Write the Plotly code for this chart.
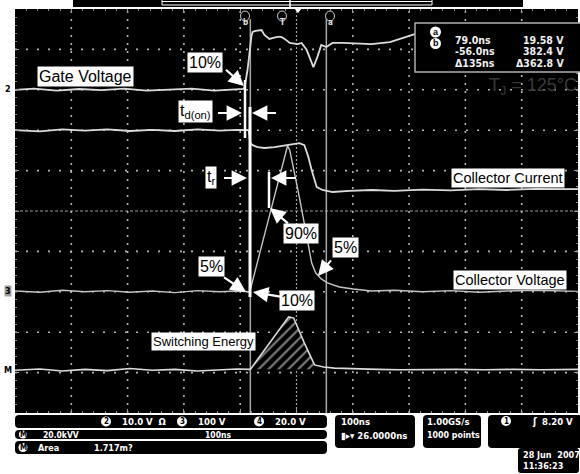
import plotly.graph_objects as go

# ---------------- data (time in ns, amplitude in screen divisions) ----------------
gate_t = [-474, -440, -400, -360, -320, -280, -240, -200, -160, -120, -90, -68, -66, -61, -54, -52, -47,
          -36, -31, -22, -17, -8, -1, 5, 14, 28, 35, 44, 51, 56, 63, 70, 79, 90, 108, 159, 192, 236, 298, 526]
gate_v = [3.0, 3.03, 2.98, 3.02, 2.99, 3.03, 2.98, 3.01, 3.03, 2.98, 3.01, 3.02, 3.07, 3.49, 4.33, 4.43, 4.46,
          4.48, 4.36, 4.26, 4.28, 4.31, 4.31, 4.26, 4.16, 4.13, 4.16, 3.99, 3.74, 3.56, 3.81, 4.11, 4.06, 4.16,
          4.16, 4.13, 4.18, 4.38, 4.48, 4.53]

current_t = [-474, -430, -390, -350, -310, -270, -230, -190, -150, -110, -80, -59, -56, -52, -43, -31, -13, 8,
             19, 31, 40, 47, 53, 62, 72, 90, 120, 160, 200, 250, 300, 350, 400, 450, 526]
current_v = [2.0, 1.97, 2.02, 1.99, 2.02, 1.98, 2.01, 1.98, 2.02, 1.99, 2.01, 2.0, 1.68, 1.63, 1.58, 1.56, 1.58,
             1.63, 1.66, 1.68, 1.63, 1.34, 1.01, 0.59, 0.52, 0.47, 0.50, 0.52, 0.50, 0.53, 0.51, 0.54, 0.52,
             0.55, 0.54]

voltage_t = [-474, -430, -390, -350, -310, -270, -230, -190, -150, -110, -80, -57, -24, 6, 10, 14, 19, 31, 42,
             53, 60, 70, 81, 102, 127, 159, 200, 250, 300, 350, 400, 450, 526]
voltage_v = [-1.98, -2.01, -1.96, -2.0, -1.97, -2.01, -1.98, -2.02, -1.97, -2.0, -1.98, -2.0, -0.22, 1.45, 1.61,
             1.51, 1.19, 0.35, -0.47, -1.29, -1.53, -1.68, -1.78, -1.88, -1.93, -1.98, -1.96, -2.0, -1.97, -2.01,
             -1.98, -1.96, -1.99]

math_t = [-474, -430, -390, -350, -310, -270, -230, -190, -150, -110, -80, -56, 12, 21, 40, 58, 74, 94, 130,
          170, 210, 260, 310, 360, 410, 460, 526]
math_v = [-3.94, -3.91, -3.96, -3.92, -3.95, -3.90, -3.94, -3.92, -3.96, -3.93, -3.91, -3.92, -2.62, -2.65,
          -3.27, -3.81, -3.86, -3.89, -3.91, -3.92, -3.93, -3.92, -3.92, -3.93, -3.92, -3.93, -3.92]

cursor_a = 79.0     # ns
cursor_b = -56.0    # ns
x_range = [-474, 526]   # 100 ns/div, centre 26 ns
y_range = [-5, 5]
x_divs = [-374, -274, -174, -74, 126, 226, 326, 426]   # graticule verticals (ns)
y_divs = [-4, -3, -2, -1, 1, 2, 3, 4]                  # graticule horizontals (div)

readout = [("a", "79.0ns", "19.58 V"), ("b", "-56.0ns", "382.4 V"), ("", "\u0394135ns", "\u0394362.8 V")]

# ---------------- helpers: pixel -> paper for decorations ----------------
L, R, TOP, BOT = 15, 578, 9, 413
W, H = R - L, BOT - TOP


def X(px):
    return (px - L) / W


def Y(py):
    return (BOT - py) / H


TRACE = "#dcdcdc"
fig = go.Figure()

# hatched switching-energy area (from math trace)
h_t = [t for t in math_t if cursor_b <= t <= 58]
h_v = [v for t, v in zip(math_t, math_v) if cursor_b <= t <= 58]
base = math_v[-1]
fig.add_trace(go.Scatter(x=h_t + [h_t[-1], h_t[0]], y=h_v + [base, base], mode="lines",
                         line=dict(width=0), fill="toself",
                         fillpattern=dict(shape="/", fgcolor="white", bgcolor="black", size=7, solidity=0.3),
                         hoverinfo="skip"))

for tx, ty, col, w in [(gate_t, gate_v, TRACE, 1.8), (current_t, current_v, TRACE, 1.8),
                       (voltage_t, voltage_v, "#c4c4c4", 1.4), (math_t, math_v, TRACE, 1.6)]:
    fig.add_trace(go.Scatter(x=tx, y=ty, mode="lines", line=dict(color=col, width=w), hoverinfo="skip"))

shapes = []
annos = []

# graticule (dotted)
for gx in x_divs:
    shapes.append(dict(type="line", xref="x", yref="paper", x0=gx, x1=gx, y0=0, y1=1,
                       line=dict(color="#b4b4b4", width=1.6, dash="2px,6px"), layer="below"))
for gy in y_divs:
    shapes.append(dict(type="line", xref="paper", yref="y", x0=0, x1=1, y0=gy, y1=gy,
                       line=dict(color="#b4b4b4", width=1.6, dash="2px,9px"), layer="below"))
# centre lines a bit denser
shapes.append(dict(type="line", xref="x", yref="paper", x0=26, x1=26, y0=0, y1=1,
                   line=dict(color="#a0a0a0", width=1.2, dash="2px,2px"), layer="below"))
shapes.append(dict(type="line", xref="paper", yref="y", x0=0, x1=1, y0=0, y1=0,
                   line=dict(color="#a0a0a0", width=1.2, dash="3px,2px"), layer="below"))
# cursors
for c in (cursor_a, cursor_b):
    shapes.append(dict(type="line", xref="x", yref="paper", x0=c, x1=c, y0=0, y1=0.975,
                       line=dict(color="#a8a8a8", width=1.5), layer="below"))


def wline(x0, y0, x1, y1, w=2.5):
    shapes.append(dict(type="line", xref="paper", yref="paper", x0=X(x0), y0=Y(y0), x1=X(x1), y1=Y(y1),
                       line=dict(color="white", width=w), layer="above"))


wline(245, 80, 245, 138)
wline(250, 107, 250, 297, 3)
wline(269, 172, 269, 208)


def arrow(hx, hy, tx, ty):
    annos.append(dict(xref="paper", yref="paper", x=X(hx), y=Y(hy), ax=tx - hx, ay=ty - hy, text=" ",
                      showarrow=True, arrowhead=2, arrowsize=1.4, arrowwidth=2.2, arrowcolor="white",
                      standoff=0, font=dict(size=2)))


arrow(244, 86, 224, 68)
arrow(242, 113, 216, 113)
arrow(252, 113, 278, 113)
arrow(247, 178, 222, 178)
arrow(271, 178, 298, 178)
arrow(270, 208, 290, 225)
arrow(318, 276, 333, 258)
arrow(246, 292, 222, 276)
arrow(253, 292, 282, 297)

SANS = "Liberation Sans, Arial, sans-serif"


def label(cx, cy, txt, size=16):
    annos.append(dict(xref="paper", yref="paper", x=X(cx), y=Y(cy), text=txt, showarrow=False,
                      bgcolor="white", borderpad=1, xanchor="center", yanchor="middle",
                      font=dict(family=SANS, size=size, color="black")))


label(85, 76, "Gate Voltage", 16)
label(205, 62, "10%", 16)
label(195, 111, "t<sub>d(on)</sub>", 16)
label(211, 177, "t<sub>r</sub>", 16)
label(301, 233, "90%", 16)
label(345, 247, "5%", 16)
label(211, 266, "5%", 16)
label(297, 300, "10%", 16)
label(508, 178, "Collector Current", 14.5)
label(510, 280, "Collector Voltage", 14.5)
label(203, 341, "Switching Energy", 13)

annos.append(dict(xref="paper", yref="paper", x=X(533), y=Y(87), text="T<sub>J</sub> = 125\u00b0C",
                  showarrow=False, xanchor="center", yanchor="middle",
                  font=dict(family=SANS, size=18, color="#3a3a3a")))

# readout box
shapes.append(dict(type="rect", xref="paper", yref="paper", x0=X(415), x1=X(584), y0=Y(72), y1=Y(23),
                   fillcolor="black", line=dict(color="#b0b0b0", width=1.5), layer="above"))
NARROW = "Liberation Sans Narrow, DejaVu Sans Condensed, Liberation Sans"
for i, (tag, tv, vv) in enumerate(readout):
    yy = 32 + i * 11.5
    if tag:
        shapes.append(dict(type="circle", xref="paper", yref="paper", x0=X(430), x1=X(441),
                           y0=Y(yy + 5.5), y1=Y(yy - 5.5), fillcolor="white", line=dict(width=0),
                           layer="above"))
        annos.append(dict(xref="paper", yref="paper", x=X(435.5), y=Y(yy), text="<b>%s</b>" % tag,
                          showarrow=False, xanchor="center", yanchor="middle",
                          font=dict(family=SANS, size=9, color="black")))
    annos.append(dict(xref="paper", yref="paper", x=X(453), y=Y(yy), text="<b>%s</b>" % tv, showarrow=False,
                      xanchor="left", font=dict(family=NARROW, size=10.5, color="#f0f0f0")))
    annos.append(dict(xref="paper", yref="paper", x=X(566), y=Y(yy), text="<b>%s</b>" % vv, showarrow=False,
                      xanchor="right", font=dict(family=NARROW, size=10.5, color="#f0f0f0")))

# cursor / trigger markers at top
for px, t in [(245, "b"), (282, "T"), (330, "a")]:
    shapes.append(dict(type="circle", xref="paper", yref="paper", x0=X(px - 4.5), x1=X(px + 4.5),
                       y0=Y(21), y1=Y(11), fillcolor="black", line=dict(color="#d0d0d0", width=1),
                       layer="above"))
    annos.append(dict(xref="paper", yref="paper", x=X(px), y=Y(16), text="<b>%s</b>" % t, showarrow=False,
                      font=dict(family=NARROW, size=8, color="#e0e0e0")))
shapes.append(dict(type="path", xref="paper", yref="paper",
                   path="M %f %f L %f %f L %f %f Z" % (X(294), Y(8), X(302), Y(8), X(298), Y(13)),
                   fillcolor="white", line=dict(width=0), layer="above"))

# top record bar
shapes.append(dict(type="rect", xref="paper", yref="paper", x0=X(73), x1=X(523), y0=Y(7), y1=Y(-2),
                   fillcolor="black", line=dict(width=0), layer="above"))
shapes.append(dict(type="rect", xref="paper", yref="paper", x0=X(162), x1=X(432), y0=Y(5), y1=Y(-3),
                   fillcolor="black", line=dict(color="white", width=1), layer="above"))
shapes.append(dict(type="line", xref="paper", yref="paper", x0=X(162), x1=X(432), y0=Y(1.5), y1=Y(1.5),
                   line=dict(color="white", width=1), layer="above"))
shapes.append(dict(type="line", xref="paper", yref="paper", x0=X(290), x1=X(290), y0=Y(7), y1=Y(0),
                   line=dict(color="white", width=1.5), layer="above"))

# channel markers on the left edge
for py, t, bg in [(89, "2", "white"), (291, "3", "#a0a0a0"), (370, "M", "white")]:
    annos.append(dict(xref="paper", yref="paper", x=X(8), y=Y(py), text="<b>%s</b>" % t, showarrow=False,
                      xanchor="center", yanchor="middle",
                      bgcolor=bg, borderpad=0, font=dict(family=NARROW, size=9, color="black")))


# bottom status panels
def rrect(x0, y0, x1, y1, r=4):
    p = ("M {a} {b} L {c} {b} Q {d} {b} {d} {e} L {d} {f} Q {d} {g} {c} {g} L {a} {g} "
         "Q {h} {g} {h} {f} L {h} {e} Q {h} {b} {a} {b} Z").format(
        a=X(x0 + r), b=Y(y0), c=X(x1 - r), d=X(x1), e=Y(y0 + r), f=Y(y1 - r), g=Y(y1), h=X(x0))
    shapes.append(dict(type="path", xref="paper", yref="paper", path=p, fillcolor="black",
                       line=dict(width=0), layer="above"))


rrect(15, 415, 327, 428)
rrect(15, 430, 327, 439)
rrect(15, 441, 327, 454)
rrect(335, 415, 415, 448)
rrect(423, 415, 481, 448)
rrect(488, 415, 582, 448)
rrect(518, 448, 579, 473, 3)


def stxt(px, py, t, size=9.5, anchor="left", color="white"):
    annos.append(dict(xref="paper", yref="paper", x=X(px), y=Y(py), text="<b>%s</b>" % t, showarrow=False,
                      xanchor=anchor, yanchor="middle", font=dict(family=NARROW, size=size, color=color)))


def badge(px, py, t, r=5):
    shapes.append(dict(type="circle", xref="paper", yref="paper", x0=X(px - r), x1=X(px + r),
                       y0=Y(py + r), y1=Y(py - r), fillcolor="white", line=dict(width=0), layer="above"))
    stxt(px, py, t, 8, "center", "black")


badge(106, 421.5, "2")
stxt(120, 421.5, "10.0 V  \u03a9")
badge(182, 421.5, "3")
stxt(196, 421.5, "100 V")
badge(259, 421.5, "4")
stxt(273, 421.5, "20.0 V")
badge(23, 434.5, "M", 4)
stxt(41, 434.5, "20.0kVV", 8.5)
stxt(203, 434.5, "100ns", 8.5)
badge(23, 447.5, "M", 4.5)
stxt(36, 447.5, "Area", 9)
stxt(92, 447.5, "1.717m?", 9)
stxt(339, 421, "100ns")
stxt(339, 435, "\u25ae\u25b8\u25be 26.0000ns")
stxt(425, 421, "1.00GS/s")
stxt(425, 435, "1000 points", 8.8)
badge(506, 421, "1")
stxt(534, 421, "\u0283", 10, "center")
stxt(575, 421, "8.20 V", 9.5, "right")
stxt(521, 455, "28 Jun  2007", 9)
stxt(521, 466, "11:36:23", 9)

fig.update_layout(
    width=580, height=474, margin=dict(l=L, r=580 - R, t=TOP, b=474 - BOT),
    paper_bgcolor="white", plot_bgcolor="black", showlegend=False,
    shapes=shapes, annotations=annos,
    xaxis=dict(range=x_range, showgrid=False, dtick=100, tick0=-474, showticklabels=False, zeroline=False,
               ticks="inside", ticklen=4, tickcolor="#9a9a9a", mirror="ticks", showline=False,
               fixedrange=True,
               minor=dict(ticks="inside", ticklen=2, dtick=20, tick0=-474, tickcolor="#8a8a8a")),
    yaxis=dict(range=y_range, showgrid=False, dtick=1, tick0=-5, showticklabels=False, zeroline=False,
               ticks="inside", ticklen=4, tickcolor="#9a9a9a", mirror="ticks", showline=False,
               fixedrange=True,
               minor=dict(ticks="inside", ticklen=2, dtick=0.2, tick0=-5, tickcolor="#8a8a8a")),
)

fig.write_html("out.html", config={"displayModeBar": False},
               post_script="document.body.style.margin='0px';document.body.style.overflow='hidden';")
